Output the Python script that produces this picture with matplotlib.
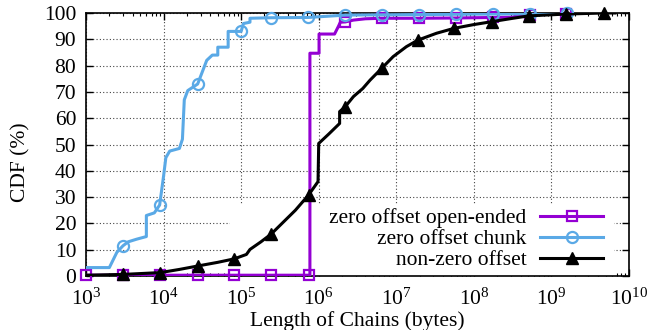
import matplotlib
matplotlib.use("Agg")
import matplotlib.pyplot as plt
from matplotlib.patches import Rectangle
from matplotlib.ticker import LogLocator, FixedLocator, NullFormatter

plt.rcParams['font.family'] = ['Liberation Serif', 'DejaVu Serif']
plt.rcParams['mathtext.fontset'] = 'custom'
plt.rcParams['mathtext.rm'] = 'Liberation Serif'
plt.rcParams['mathtext.it'] = 'Liberation Serif:italic'

# ---- data (bytes, CDF %) ----
chunk_x = [1.0e3, 2.0e3, 2.5e3, 3.0e3, 3.5e3, 4.5e3, 6.0e3, 6.0e3, 7.6e3, 8.9e3,
           1.0e4, 1.07e4, 1.2e4, 1.6e4, 1.75e4, 1.85e4, 2.05e4, 2.75e4, 3.6e4,
           4.25e4, 5.0e4, 5.0e4, 6.8e4, 6.8e4, 1.0e5, 1.07e5, 1.3e5, 1.3e5,
           2.45e5, 7.25e5, 2.2e6, 6.5e6, 1.95e7, 5.9e7, 1.75e8, 5.25e8, 1.6e9]
chunk_y = [3.2, 3.2, 9, 11.5, 13, 14, 15, 23, 24, 27,
           38, 45, 47.5, 48.5, 52, 67, 70.5, 73, 82,
           84, 84, 87, 87, 93, 93, 96, 96.5, 98,
           98.2, 98.3, 99.2, 99.3, 99.4, 99.5, 99.6, 99.7, 100]
chunk_mx = [3.0e3, 8.9e3, 2.75e4, 1.0e5, 2.45e5, 7.25e5, 2.2e6, 6.5e6, 1.95e7, 5.9e7, 1.75e8, 5.25e8, 1.6e9]
chunk_my = [11.5, 27, 73, 93, 98.2, 98.3, 99.2, 99.3, 99.4, 99.5, 99.6, 99.7, 100]

open_x = [1.0e3, 7.7e5, 7.7e5, 1.01e6, 1.01e6, 1.6e6, 1.8e6, 1.9e6, 2.2e6, 2.8e6,
          4.0e6, 6.5e6, 1.95e7, 5.9e7, 1.75e8, 3.2e8, 3.5e8, 5.25e8, 1.55e9]
open_y = [0.3, 0.3, 84.7, 84.7, 92, 92, 95, 96.5, 96.6, 97.3,
          97.8, 98, 98, 98.1, 98.3, 98.4, 99, 99.3, 99.8]
open_mx = [1.0e3, 3.0e3, 8.9e3, 2.75e4, 8.1e4, 2.45e5, 7.4e5, 2.2e6, 6.5e6, 1.95e7, 5.9e7, 1.75e8, 5.25e8, 1.55e9]
open_my = [0.3, 0.3, 0.3, 0.3, 0.3, 0.3, 0.5, 96.6, 98, 98, 98.1, 98.3, 99.3, 99.8]

nz_x = [1.0e3, 3.0e3, 9.1e3, 1.6e4, 2.75e4, 5.0e4, 8.1e4, 1.17e5, 1.3e5, 1.8e5,
        2.45e5, 3.5e5, 5.0e5, 7.4e5, 9.8e5, 1.0e6, 1.35e6, 1.86e6, 1.86e6, 2.2e6,
        2.8e6, 3.7e6, 4.6e6, 6.5e6, 9.1e6, 1.35e7, 1.9e7, 3.3e7, 5.6e7, 1.0e8,
        1.7e8, 3.2e8, 5.1e8, 1.55e9, 4.7e9, 6.6e9]
nz_y = [0.3, 0.6, 1.3, 2.5, 3.8, 5.2, 6.5, 8.2, 10.1, 13,
        16, 20.5, 25, 30.8, 35.9, 50.4, 54, 58, 62.5, 64.4,
        68.2, 71.3, 74.5, 79, 83.4, 87.2, 89.7, 92.3, 94.2, 95.6,
        96.7, 98, 98.9, 99.6, 100, 100]
nz_mx = [3.0e3, 9.1e3, 2.75e4, 8.1e4, 2.45e5, 7.4e5, 2.2e6, 6.5e6, 1.9e7, 5.6e7, 1.7e8, 5.1e8, 1.55e9, 4.7e9]
nz_my = [0.6, 1.3, 3.8, 6.5, 16, 30.8, 64.4, 79, 89.7, 94.2, 96.7, 98.9, 99.6, 100]

labels = ['zero offset open-ended', 'zero offset chunk', 'non-zero offset']
colors = ['#9400d3', '#5aa9e6', '#000000']
xtick_vals = [1e3, 1e4, 1e5, 1e6, 1e7, 1e8, 1e9, 1e10]
xtick_labels = ['$10^{3}$', '$10^{4}$', '$10^{5}$', '$10^{6}$', '$10^{7}$', '$10^{8}$', '$10^{9}$', '$10^{10}$']
ytick_vals = [0, 10, 20, 30, 40, 50, 60, 70, 80, 90, 100]

FS = 15.5

fig = plt.figure(figsize=(6.49, 3.30), dpi=100)
ax = fig.add_axes([86/649, 54/330, 543/649, 263/330])
ax.set_xscale('log')
ax.set_xlim(1e3, 1e10)
ax.set_ylim(0, 100)

lw = 2.2
# open-ended
ax.plot(open_x, open_y, color=colors[0], lw=lw, zorder=3)
ax.plot(open_mx, open_my, ls='none', marker='s', ms=7.5, mfc='none', mec=colors[0], mew=1.6, zorder=3, clip_on=False)
# chunk
ax.plot(chunk_x, chunk_y, color=colors[1], lw=lw, zorder=4)
ax.plot(chunk_mx, chunk_my, ls='none', marker='o', ms=8, mfc='none', mec=colors[1], mew=1.6, zorder=4, clip_on=False)
# non-zero
ax.plot(nz_x, nz_y, color=colors[2], lw=lw, zorder=5)
ax.plot(nz_mx, nz_my, ls='none', marker='^', ms=9, color=colors[2], zorder=5, clip_on=False)

# legend proxies
h0, = ax.plot([], [], color=colors[0], lw=lw, marker='s', ms=7.5, mfc='none', mec=colors[0], mew=1.6)
h1, = ax.plot([], [], color=colors[1], lw=lw, marker='o', ms=8, mfc='none', mec=colors[1], mew=1.6)
h2, = ax.plot([], [], color=colors[2], lw=lw, marker='^', ms=9)

# opaque key area
ax.add_patch(Rectangle((0.265, 0.0), 0.707, 0.27, transform=ax.transAxes,
                       facecolor='white', edgecolor='none', zorder=1))

leg = ax.legend([h0, h1, h2], labels, loc='lower right', bbox_to_anchor=(0.953, 0.022),
                frameon=False, markerfirst=False, handlelength=2.93, handletextpad=0.65,
                labelspacing=0.04, borderpad=0, borderaxespad=0, fontsize=FS)
for t in leg.get_texts():
    t.set_ha('right')
leg.set_zorder(6)

# grid
ax.set_axisbelow(True)
ax.grid(True, which='major', ls=(0, (1, 2)), color='#444444', lw=0.8)

ax.xaxis.set_major_locator(FixedLocator(xtick_vals))
ax.set_xticklabels(xtick_labels)
ax.xaxis.set_minor_locator(LogLocator(base=10, subs=range(2, 10), numticks=20))
ax.xaxis.set_minor_formatter(NullFormatter())
ax.set_yticks(ytick_vals)
ax.tick_params(which='both', direction='in', top=True, right=True, labelsize=FS)
ax.tick_params(axis='y', pad=7)
ax.tick_params(axis='x', pad=9)
ax.tick_params(which='major', length=5, width=1)
ax.tick_params(which='minor', length=2.5, width=0.8)
for s in ax.spines.values():
    s.set_linewidth(1.2)

ax.set_xlabel('Length of Chains (bytes)', fontsize=FS, labelpad=1)
ax.set_ylabel('CDF (%)', fontsize=FS)
ax.yaxis.set_label_coords(-0.102, 0.431)

fig.savefig('out.png', dpi=100)
